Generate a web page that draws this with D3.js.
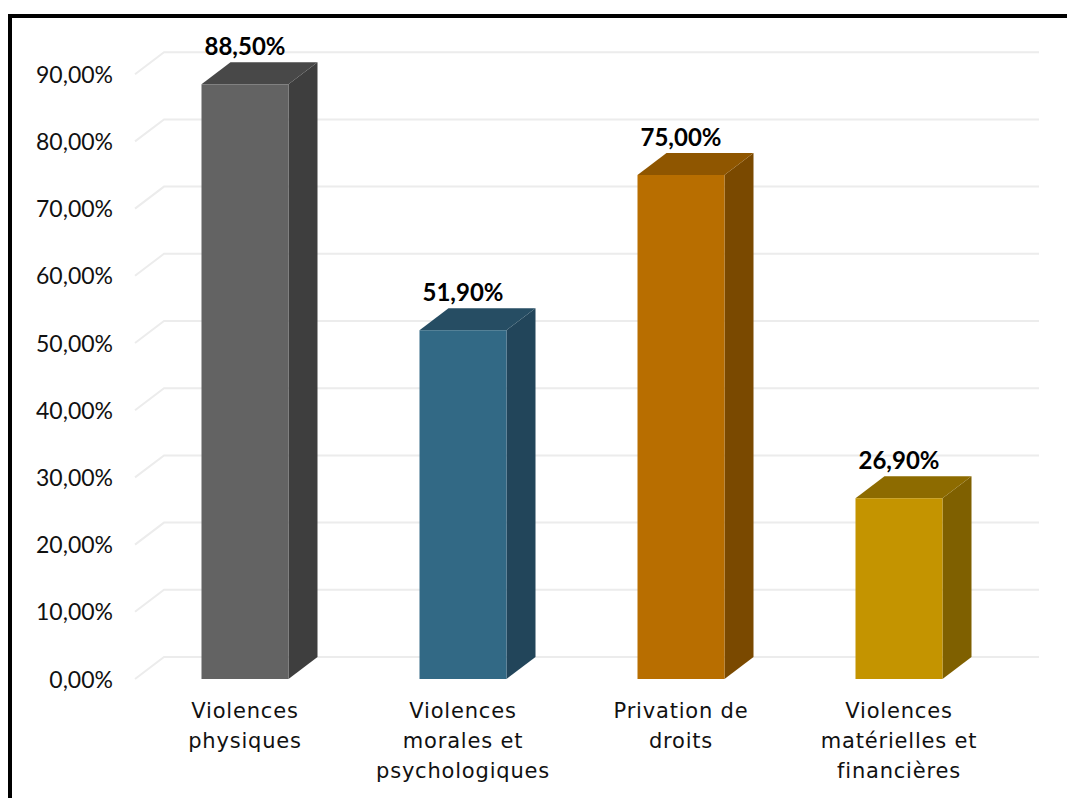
<!DOCTYPE html>
<html><head><meta charset="utf-8">
<script src="https://cdn.jsdelivr.net/npm/d3@7"></script>
<style>body{margin:0;background:#fff}svg{display:block}</style>
</head><body>
<svg id="c" width="1067" height="798"></svg>
<script>
const categories = [["Violences","physiques"],["Violences","morales et","psychologiques"],["Privation de","droits"],["Violences","matérielles et","financières"]];
const values = [88.5, 51.9, 75.0, 26.9];
const valueLabels = ["88,50%","51,90%","75,00%","26,90%"];
const tickValues = [0,10,20,30,40,50,60,70,80,90];
const tickLabels = ["0,00%","10,00%","20,00%","30,00%","40,00%","50,00%","60,00%","70,00%","80,00%","90,00%"];
const frontColors = ["#636363","#326985","#b86e00","#c49400"];
const sideColors = ["#3e3e3e","#22455a","#7a4900","#7f6000"];
const topColors = ["#484848","#264d63","#8f5600","#8d6b00"];

const svg = d3.select("#c");
const font = "Lato, 'Open Sans', sans-serif";
const catFont = "'DejaVu Sans', sans-serif";
const DX = 29, DY = -22;
const y = d3.scaleLinear().domain([0,90]).range([679, 74.2]);
const x = d3.scaleBand().domain(d3.range(4)).range([136, 1008]).paddingInner(131/218).paddingOuter(65.5/218);

// frame
svg.append("rect").attr("x",10).attr("y",16).attr("width",1200).attr("height",1000)
  .attr("fill","none").attr("stroke","#000").attr("stroke-width",4);

// gridlines
const g = svg.append("g");
tickValues.forEach(t => {
  const yy = y(t);
  g.append("path").attr("d", `M${x.range()[0]-1},${yy}L${x.range()[0]-1+DX},${yy+DY}L${x.range()[1]+DX+2},${yy+DY}`)
    .attr("fill","none").attr("stroke","#ececec").attr("stroke-width",2);
});

// y axis labels
const yAxis = d3.axisLeft(y).tickValues(tickValues).tickFormat((d,i)=>tickLabels[i]).tickSize(0).tickPadding(0);
const ya = svg.append("g").attr("transform","translate(113,0)").call(yAxis);
ya.select(".domain").remove();
ya.selectAll("text").attr("font-family",font).attr("font-size",23).attr("fill","#111").attr("dy","0.35em");

// bars
values.forEach((v,i) => {
  const x0 = x(i), w = x.bandwidth(), yt = y(v), yb = y(0);
  const bg = svg.append("g");
  bg.append("path").attr("d",`M${x0+w},${yt}L${x0+w+DX},${yt+DY}L${x0+w+DX},${yb+DY}L${x0+w},${yb}Z`).attr("fill",sideColors[i]);
  bg.append("path").attr("d",`M${x0},${yt}L${x0+DX},${yt+DY}L${x0+w+DX},${yt+DY}L${x0+w},${yt}Z`).attr("fill",topColors[i]);
  bg.append("rect").attr("x",x0).attr("y",yt).attr("width",w).attr("height",yb-yt).attr("fill",frontColors[i]);
  svg.append("text").attr("x",x0+w/2).attr("y",yt+DY-7).attr("text-anchor","middle")
    .attr("font-family",font).attr("font-weight","bold").attr("font-size",24).attr("fill","#000").text(valueLabels[i]);
  const t = svg.append("text").attr("text-anchor","middle").attr("font-family",catFont).attr("font-size",21)
    .attr("letter-spacing","0.8px").attr("fill","#111");
  categories[i].forEach((line,j) => {
    t.append("tspan").attr("x",x0+w/2).attr("y",718+30*j).text(line);
  });
});
</script>
</body></html>
